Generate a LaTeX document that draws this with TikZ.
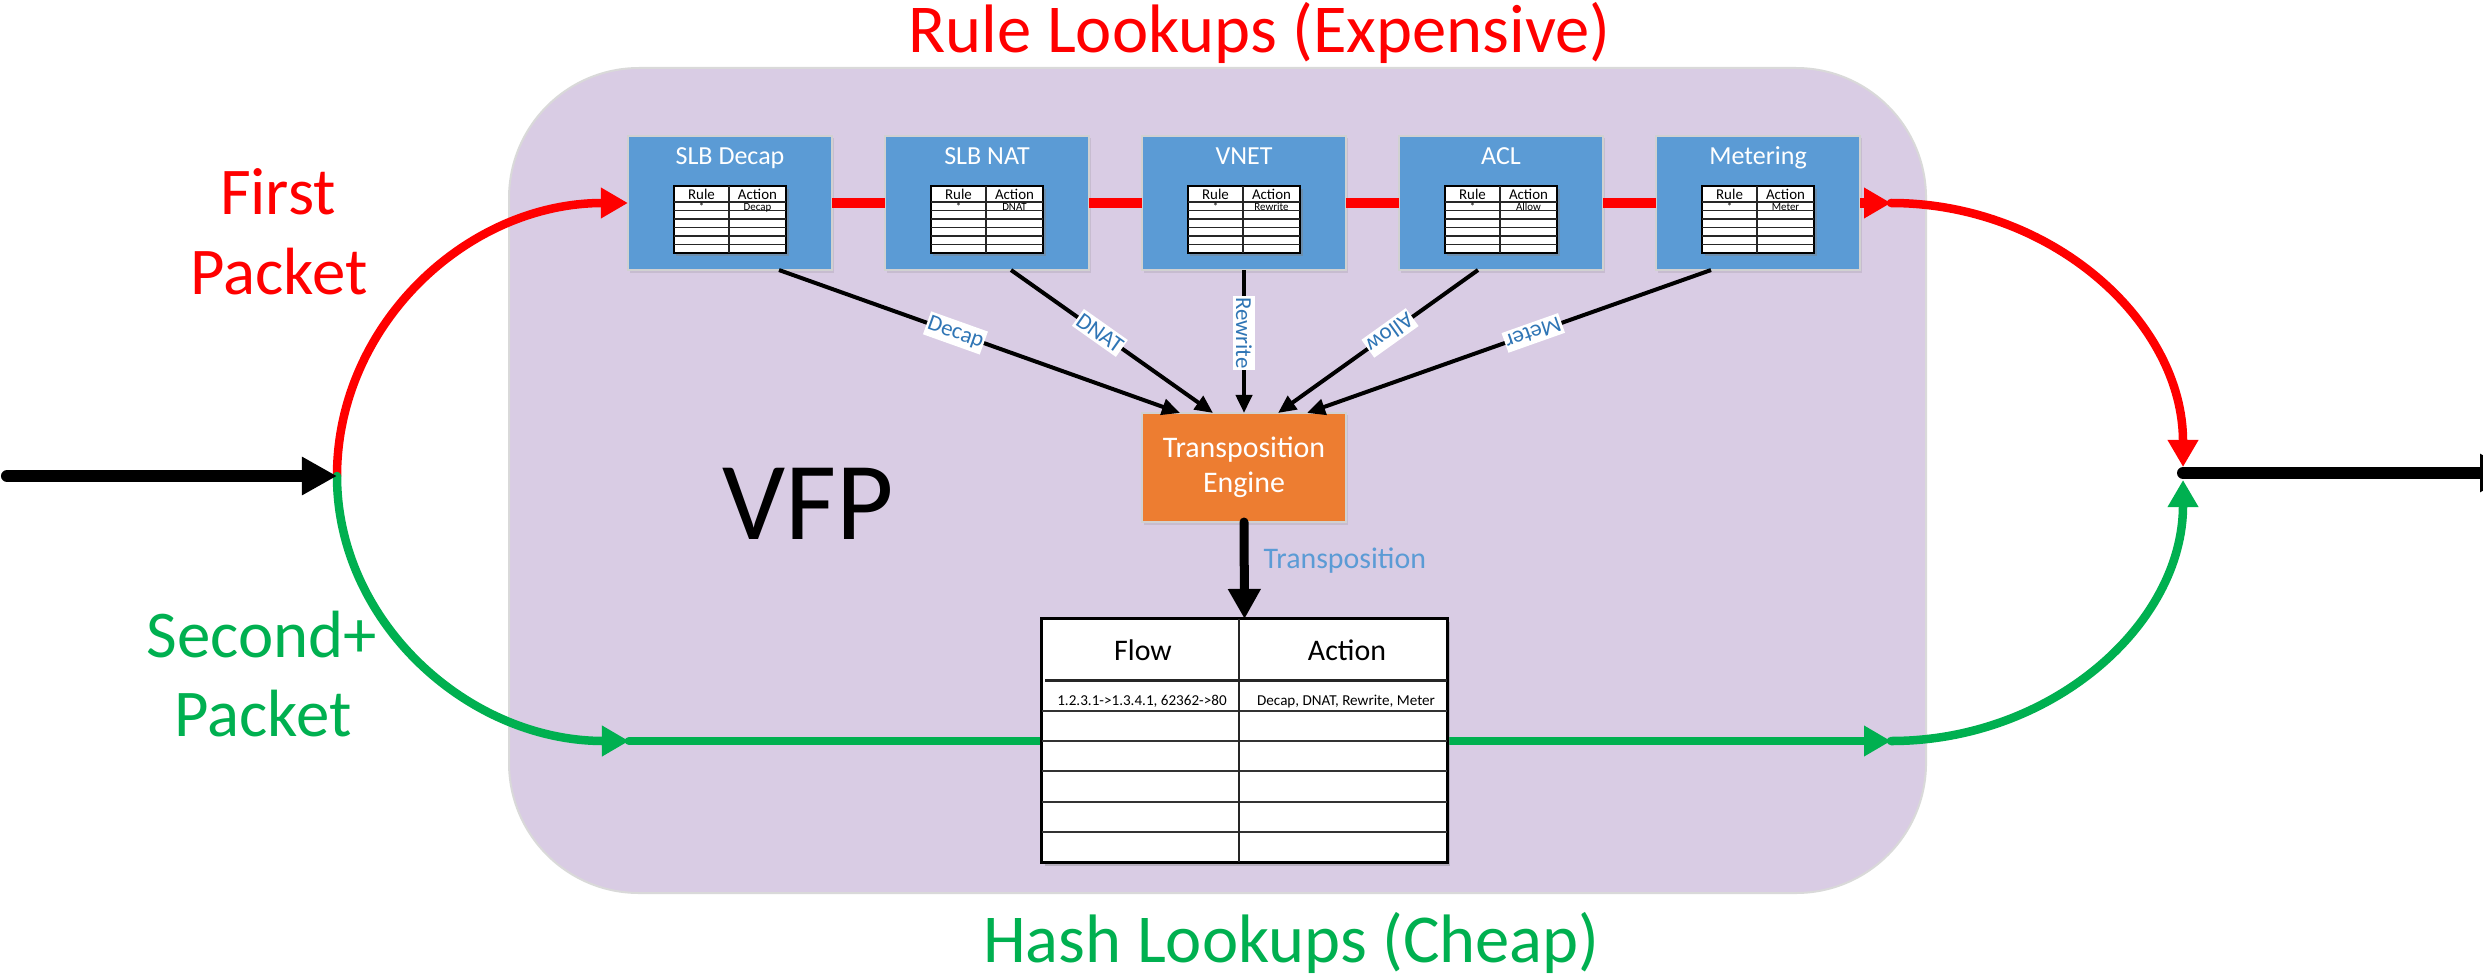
\documentclass[tikz,border=0pt]{standalone}
\usepackage{fontspec}
\setmainfont{Carlito}
\usetikzlibrary{arrows.meta,shadows}

\definecolor{vfpbg}{RGB}{217,204,228}
\definecolor{stageblue}{RGB}{91,155,213}
\definecolor{engineorange}{RGB}{237,125,49}
\definecolor{slowred}{RGB}{255,0,0}
\definecolor{fastgreen}{RGB}{0,176,80}
\definecolor{labelblue}{RGB}{47,117,181}
\definecolor{lightblue}{RGB}{91,155,213}

\tikzset{
  stagebox/.style={draw=black!18, line width=0.02cm, fill=stageblue,
    minimum width=2.04cm, minimum height=1.34cm, inner sep=0pt, outer sep=0pt,
    drop shadow={shadow xshift=0.02cm, shadow yshift=-0.025cm, opacity=0.2}},
  stagetitle/.style={text=white, font=\fontsize{7.4pt}{9pt}\selectfont, anchor=base, inner sep=0pt},
  ruletab/.style={draw=black, line width=0.025cm, fill=white,
    minimum width=1.12cm, minimum height=0.67cm, inner sep=0pt, outer sep=0pt,
    drop shadow={shadow xshift=0.025cm, shadow yshift=-0.03cm, opacity=0.45}},
  gridline/.style={draw=black!85, line width=0.015cm},
  rulehead/.style={font=\fontsize{4.25pt}{5pt}\selectfont, anchor=base, inner sep=0pt},
  ruledata/.style={font=\fontsize{3.1pt}{3.5pt}\selectfont, anchor=base, inner sep=0pt},
  redpath/.style={draw=slowred, line width=0.085cm, line cap=round},
  greenpath/.style={draw=fastgreen, line width=0.085cm, line cap=round},
  colortip/.style={-{Triangle[length=0.27cm,width=0.29cm]}},
  blackpath/.style={draw=black, line width=0.12cm, line cap=round,
    -{Triangle[length=0.35cm,width=0.36cm]}},
  feed/.style={draw=black, line width=0.04cm, -{Triangle[length=0.18cm,width=0.16cm]}},
  elabel/.style={fill=white, text=labelblue, font=\fontsize{6.5pt}{7pt}\selectfont,
    inner xsep=0.012cm, inner ysep=0.03cm, sloped, allow upside down, pos=0.44},
  engine/.style={draw=black!18, line width=0.02cm, fill=engineorange, text=white,
    minimum width=2.04cm, minimum height=1.09cm, inner sep=0pt, outer sep=0pt, align=center,
    font=\fontsize{8.5pt}{10pt}\selectfont,
    drop shadow={shadow xshift=0.02cm, shadow yshift=-0.025cm, opacity=0.2}},
  flowtab/.style={draw=black, line width=0.03cm, fill=white,
    minimum width=4.05cm, minimum height=2.43cm, inner sep=0pt, outer sep=0pt,
    drop shadow={shadow xshift=0.03cm, shadow yshift=-0.035cm, opacity=0.4}},
  flowhead/.style={font=\fontsize{8.5pt}{10pt}\selectfont, anchor=base, inner sep=0pt},
  flowdata/.style={font=\fontsize{4.3pt}{5pt}\selectfont, anchor=base, inner sep=0pt},
  bigtitle/.style={font=\fontsize{19pt}{22.8pt}\selectfont, anchor=base, inner sep=0pt},
  sectiontitle/.style={font=\fontsize{19.5pt}{23pt}\selectfont, anchor=base, inner sep=0pt},
}

% a small rule table: name, centre x, action entry
\newcommand{\ruletable}[3]{%
  \node[ruletab] (#1) at (#2,219.5) {};
  \draw[gridline, line width=0.022cm] ({#2-56},202) -- ({#2+56},202);
  \foreach \ry in {210.5,219,227.5,236,244.5}
    \draw[gridline] ({#2-56},\ry) -- ({#2+56},\ry);
  \draw[gridline] ({#2-1},186) -- ({#2-1},253);
  \node[rulehead] (#1-rule) at ({#2-28.5},199.5) {Rule};
  \node[rulehead] (#1-action) at ({#2+27.5},199.5) {Action};
  \node[ruledata] (#1-any) at ({#2-28.5},210.5) {*};
  \node[ruledata] (#1-act) at ({#2+27.5},210.5) {#3};
}

% a processing stage: name, centre x, title, action entry
\newcommand{\stage}[4]{%
  \node[stagebox] (#1) at (#2,203) {};
  \node[stagetitle] (#1-title) at (#2,164) {#3};
  \ruletable{#1-tab}{#2}{#4}%
}

\begin{document}
\begin{tikzpicture}[x=0.01cm, y=-0.01cm]
\useasboundingbox (0,0) rectangle (2483,976);
\clip (0,0) rectangle (2483,976);

% VFP container
\fill[white] (0,0) rectangle (2483,976);
\draw[draw=black!15, line width=0.02cm, fill=vfpbg, rounded corners=1.3cm]
  (509,68) rectangle (1926,893);

% path end points
\coordinate (in) at (7,476);
\coordinate (split) at (337,476);
\coordinate (greenL) at (629,741);
\coordinate (greenR) at (1891,741);
\coordinate (redR) at (1891,203);
\coordinate (merge) at (2183,473);
\coordinate (mtop) at (2183,467);
\coordinate (mbot) at (2183,480);
\coordinate (out) at (2515,473);

% fast path (hash lookups)
\draw[greenpath, colortip] (greenL) -- (greenR);

% stages
\stage{sd}{730}{SLB Decap}{Decap}
\stage{nat}{987}{SLB NAT}{DNAT}
\stage{vnet}{1244}{VNET}{Rewrite}
\stage{acl}{1501}{ACL}{Allow}
\stage{met}{1758}{Metering}{Meter}

% slow path (rule lookups)
\draw[draw=slowred, line width=0.09cm] (sd.east) -- (nat.west);
\draw[draw=slowred, line width=0.09cm] (nat.east) -- (vnet.west);
\draw[draw=slowred, line width=0.09cm] (vnet.east) -- (acl.west);
\draw[draw=slowred, line width=0.09cm] (acl.east) -- (met.west);
\draw[draw=slowred, line width=0.09cm, colortip] (met.east) -- (redR);

% input and split
\draw[redpath, colortip] (split) .. controls +(0,-151) and +(-161,0) .. (sd.west);
\draw[greenpath, colortip] (split) .. controls +(0,146) and +(-161,0) .. (greenL);
\draw[blackpath] (in) -- (split);

% merge and output
\draw[redpath, colortip] (redR) .. controls +(161,0) and +(0,-145) .. (mtop);
\draw[greenpath, colortip] (greenR) .. controls +(161,0) and +(0,144) .. (mbot);
\draw[blackpath] (merge) -- (out);

% transposition engine
\node[engine] (te) at (1244,467.5) {Transposition\\Engine};

\draw[feed] ([xshift=0.49cm]sd.south) -- node[elabel] (l-decap) {Decap} ([xshift=-0.64cm]te.north);
\draw[feed] ([xshift=0.24cm]nat.south) -- node[elabel] (l-dnat) {DNAT} ([xshift=-0.31cm]te.north);
\draw[feed] (vnet.south) -- node[elabel] (l-rewrite) {Rewrite} (te.north);
\draw[feed] ([xshift=-0.23cm]acl.south) -- node[elabel] (l-allow) {Allow} ([xshift=0.34cm]te.north);
\draw[feed] ([xshift=-0.47cm]met.south) -- node[elabel] (l-meter) {Meter} ([xshift=0.63cm]te.north);

% flow table
\node[flowtab] (ft) at (1244.5,740.5) {};
\draw[draw=black!85, line width=0.03cm] (1045,680) -- (1447,680);
\foreach \fy in {711,741,771,802,832}
  \draw[draw=black!80, line width=0.025cm] (1042,\fy) -- (1447,\fy);
\draw[draw=black!85, line width=0.025cm] (1239,619) -- (1239,862);
\node[flowhead] (ft-flow) at (1143,660) {Flow};
\node[flowhead] (ft-action) at (1347,660) {Action};
\node[flowdata] (ft-key) at (1142,705) {1.2.3.1->1.3.4.1, 62362->80};
\node[flowdata] (ft-val) at (1346,705) {Decap, DNAT, Rewrite, Meter};

\draw[draw=black, line width=0.09cm, line cap=round, -{Triangle[length=0.30cm,width=0.31cm]}]
  (te.south) -- (ft.north);
\node[anchor=base west, inner sep=0pt, text=lightblue, font=\fontsize{8.5pt}{10pt}\selectfont]
  (tlabel) at (1263,568) {Transposition};

% titles
\node[sectiontitle, text=slowred] (rule-title) at (1259.5,53) {Rule Lookups (Expensive)};
\node[sectiontitle, text=fastgreen] (hash-title) at (1291.5,962) {Hash Lookups (Cheap)};
\node[bigtitle, text=slowred] (first1) at (278,214.5) {First};
\node[bigtitle, text=slowred] (first2) at (279,294) {Packet};
\node[bigtitle, text=fastgreen] (second1) at (262,657) {Second+};
\node[bigtitle, text=fastgreen] (second2) at (263,736) {Packet};
\node[anchor=base, inner sep=0pt, font=\fontsize{31.6pt}{36pt}\selectfont] (vfp) at (808,539) {VFP};

\end{tikzpicture}
\end{document}
